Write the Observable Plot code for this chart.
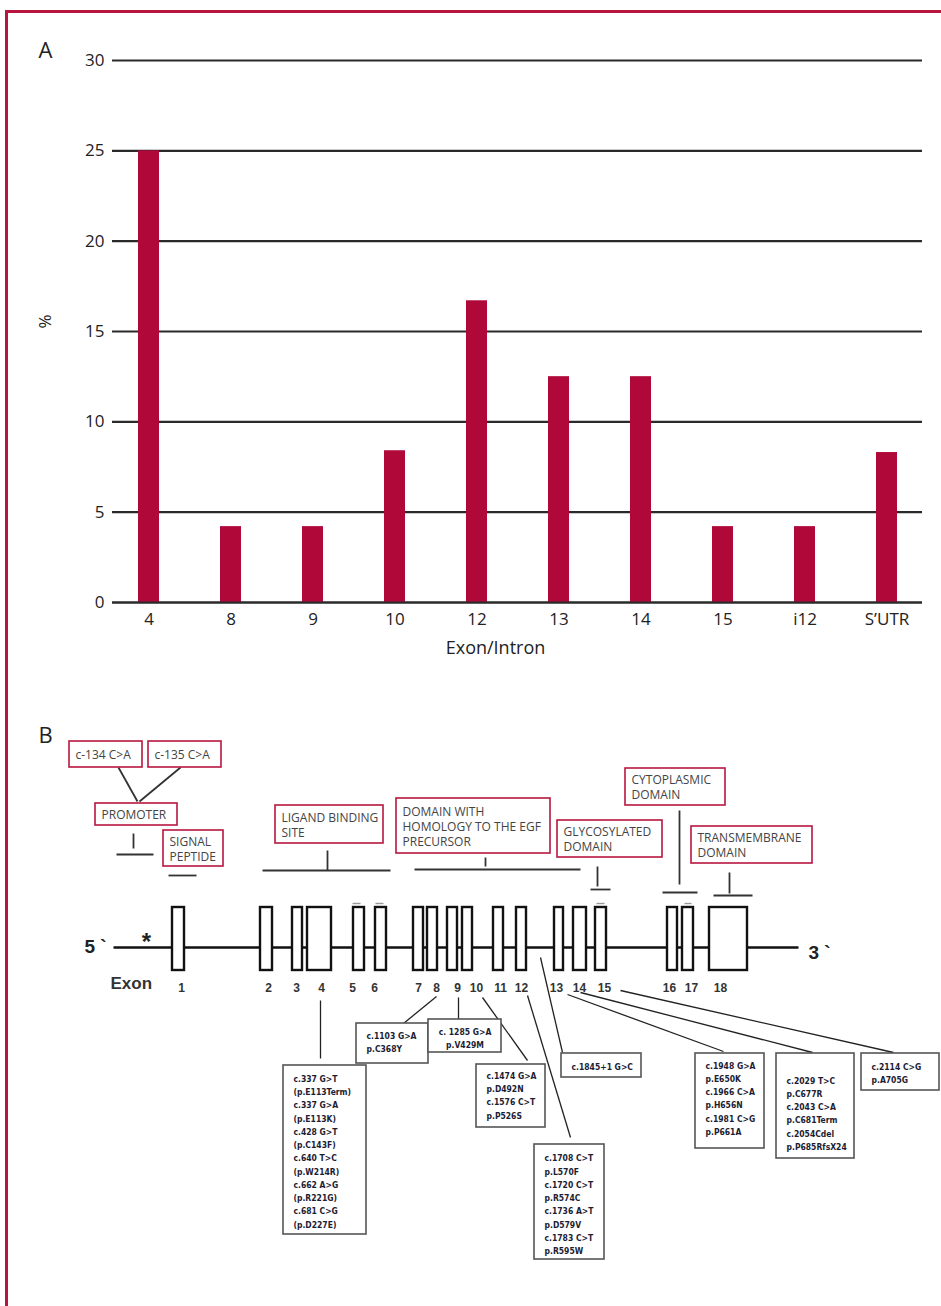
<!DOCTYPE html>
<html><head><meta charset="utf-8">
<script src="https://cdn.jsdelivr.net/npm/d3@7"></script>
<script src="https://cdn.jsdelivr.net/npm/@observablehq/plot@0.6"></script>
<style>
body{margin:0;background:#fff;}
#page{position:relative;width:941px;height:1306px;overflow:hidden;background:#fff;}
#border{position:absolute;left:5px;top:10px;width:960px;height:1320px;border-top:3px solid #b8163f;border-left:3px solid #b8163f;}
#a{position:absolute;left:0;top:0;}
#b{position:absolute;left:0;top:700px;}
</style></head>
<body><div id="page"><div id="border"></div><div id="a"></div><div id="b"></div></div>
<script>
// ---------- Panel A data ----------
const categories = ["4","8","9","10","12","13","14","15","i12","S’UTR"];
const percents   = [25, 4.2, 4.2, 8.4, 16.7, 12.5, 12.5, 4.2, 4.2, 8.3];
const yTicks     = [0, 5, 10, 15, 20, 25, 30];

// ---------- Panel B data ----------
const exonNumbers = ["1","2","3","4","5","6","7","8","9","10","11","12","13","14","15","16","17","18"];
const exonStart   = [172,260,292,307,353,375,413,427,447,462,493,516,554,573,595,667,682,709];
const exonEnd     = [184,272,302,331,364,386,423,437,457,472,503,526,563,586,606,677,693,747];
const exonLabelX  = [181,268,296,321,352,374,418,436,457,476,500,521,556,579,604,669,691,720];
const exonMarks   = [[352,360],[375,383],[596,604],[684,691]];
const gene        = {start:113, end:798, axis:947, top:907, bottom:970, labelRow:988};

const endLabels   = ["5 `","3 `"];
const endLabelX   = [84, 808];
const endLabelY   = [946, 952];

const domainLabels = ["c-134 C>A","c-135 C>A","PROMOTER","SIGNAL\nPEPTIDE","LIGAND BINDING\nSITE",
  "DOMAIN WITH\nHOMOLOGY TO THE EGF\nPRECURSOR","GLYCOSYLATED\nDOMAIN","CYTOPLASMIC\nDOMAIN","TRANSMEMBRANE\nDOMAIN"];
const domainX1 = [69,148,95,163,275,396,557,625,691];
const domainX2 = [142,221,177,223,383,550,662,725,812];
const domainY1 = [741,741,803,830,805,798,820,768,826];
const domainY2 = [767,767,825,866,843,853,857,805,863];

// bracket & connector segments [x1,y1,x2,y2]
const domainSegments = [
  [118,767,137,801],[180,767,139,801],
  [133,833,133,848],[116,854,153,854],
  [168,875,196,875],
  [327,850,327,870],[262,870,390,870],
  [485,857,485,866],[414,869,580,869],
  [597,866,597,886],[590,889,610,889],
  [679,810,679,884],[662,892,697,892],
  [729,872,729,893],[713,895,752,895]
];

const mutationLabels = [
  ["c.337 G>T","(p.E113Term)","c.337 G>A","(p.E113K)","c.428 G>T","(p.C143F)","c.640 T>C","(p.W214R)","c.662 A>G","(p.R221G)","c.681 C>G","(p.D227E)"],
  ["c.1103 G>A","p.C368Y"],
  ["c. 1285 G>A","p.V429M"],
  ["c.1474 G>A","p.D492N","c.1576 C>T","p.P526S"],
  ["c.1845+1 G>C"],
  ["c.1708 C>T","p.L570F","c.1720 C>T","p.R574C","c.1736 A>T","p.D579V","c.1783 C>T","p.R595W"],
  ["c.1948 G>A","p.E650K","c.1966 C>A","p.H656N","c.1981 C>G","p.P661A"],
  ["c.2029 T>C","p.C677R","c.2043 C>A","p.C681Term","c.2054Cdel","p.P685RfsX24"],
  ["c.2114 C>G","p.A705G"]
];
const mutX1 = [283,356,428,476,561,534,695,776,861];
const mutX2 = [366,428,501,545,641,604,764,854,939];
const mutY1 = [1065,1023,1019,1064,1053,1144,1053,1053,1053];
const mutY2 = [1234,1063,1052,1127,1077,1259,1148,1158,1090];
const mutTextY = [1150,1041,1037,1094,1065,1203,1097,1112,1072];
const mutCentered = [false,false,true,false,false,false,false,false,false];
const mutLinks = [
  [320,1000,320,1058],[436,996,403,1023],[458,997,458,1019],[482,997,527,1060],
  [540,957,562,1052],[527,995,570,1137],[567,994,723,1051],[580,992,812,1052],[620,990,893,1052]
];

const crimson = "#b8163f";
const barColor = "#b00839";

// ---------- Panel A ----------
const tableA = categories.map((c,i)=>({cat:c, pct:percents[i]}));
const chartA = Plot.plot({
  width: 941, height: 690,
  marginLeft: 112, marginRight: 19, marginTop: 60, marginBottom: 88,
  style: {fontFamily: "'Open Sans', sans-serif", fontSize: "17px", color: "#222", background: "transparent"},
  x: {domain: categories, paddingInner: 0.745, paddingOuter: 0.2875, label: null},
  y: {domain: [0, 30], label: null},
  marks: [
    Plot.ruleY(yTicks, {stroke: "#2a2a2a", strokeWidth: 2.2}),
    Plot.barY(tableA, {x: "cat", y: "pct", fill: barColor}),
    Plot.ruleY([0], {stroke: "#2a2a2a", strokeWidth: 2.2}),
    Plot.axisY({ticks: yTicks, tickSize: 0, tickPadding: 8, label: null, fontSize: 17}),
    Plot.axisX({tickSize: 0, tickPadding: 10, label: null, fontSize: 17}),
    Plot.text(["%"], {frameAnchor: "left", dx: -67, dy: -3, rotate: -90, fontSize: 17}),
    Plot.text(["Exon/Intron"], {frameAnchor: "bottom", dx: -22, dy: 51, fontSize: 18}),
    Plot.text(["A"], {frameAnchor: "top-left", textAnchor: "start", dx: -74, dy: -18, fontSize: 22})
  ]
});
document.getElementById("a").appendChild(chartA);

// ---------- Panel B ----------
const idx = exonNumbers.map((d,i)=>i);
const dIdx = domainLabels.map((d,i)=>i);
const mIdx = mutationLabels.map((d,i)=>i);
const boldFont = "'Liberation Sans', Arial, sans-serif";
const mutFont = "'DejaVu Sans Condensed', 'DejaVu Sans', sans-serif";

const chartB = Plot.plot({
  width: 941, height: 606, margin: 0,
  style: {background: "transparent", color: "#222"},
  x: {domain: [0, 941], axis: null},
  y: {domain: [700, 1306], reverse: true, axis: null},
  marks: [
    Plot.text(["B"], {x: 38, y: 735, textAnchor: "start", fontSize: 22, fontFamily: "'Open Sans', sans-serif", fill: "#222"}),
    // domain annotation lines
    Plot.link(domainSegments, {x1: d=>d[0], y1: d=>d[1], x2: d=>d[2], y2: d=>d[3], stroke: "#333", strokeWidth: 1.8}),
    // domain boxes
    Plot.rect(dIdx, {x1: i=>domainX1[i], x2: i=>domainX2[i], y1: i=>domainY1[i], y2: i=>domainY2[i], fill: "white", stroke: crimson, strokeWidth: 1.6}),
    Plot.text(dIdx, {x: i=>domainX1[i]+6, y: i=>(domainY1[i]+domainY2[i])/2, text: i=>domainLabels[i],
      textAnchor: "start", lineAnchor: "middle", lineHeight: 1.25, fontSize: 12, fill: "#444", fontFamily: "'Open Sans', sans-serif"}),
    // gene backbone
    Plot.link([gene], {x1: d=>d.start, x2: d=>d.end, y1: d=>d.axis, y2: d=>d.axis, stroke: "#111", strokeWidth: 2.6}),
    Plot.rect(idx, {x1: i=>exonStart[i], x2: i=>exonEnd[i], y1: gene.top, y2: gene.bottom, fill: "white", stroke: "#111", strokeWidth: 2.4}),
    Plot.link(exonMarks, {x1: d=>d[0], x2: d=>d[1], y1: gene.top-4, y2: gene.top-4, stroke: "#999", strokeWidth: 1.4}),
    Plot.text(exonNumbers, {x: (d,i)=>exonLabelX[i], y: gene.labelRow, fontSize: 12, fontWeight: "bold", fontFamily: boldFont, fill: "#333"}),
    Plot.text(endLabels, {x: (d,i)=>endLabelX[i], y: (d,i)=>endLabelY[i], textAnchor: "start", fontSize: 19, fontWeight: "bold", fontFamily: boldFont, fill: "#222"}),
    Plot.text(["*"], {x: 146, y: 942, fontSize: 24, fontWeight: "bold", fontFamily: boldFont, fill: "#222"}),
    Plot.text(["Exon"], {x: 110, y: 983, textAnchor: "start", fontSize: 17, fontWeight: "bold", fontFamily: boldFont, fill: "#333"}),
    // mutation connectors and boxes
    Plot.link(mutLinks, {x1: d=>d[0], y1: d=>d[1], x2: d=>d[2], y2: d=>d[3], stroke: "#222", strokeWidth: 1.3}),
    Plot.rect(mIdx, {x1: i=>mutX1[i], x2: i=>mutX2[i], y1: i=>mutY1[i], y2: i=>mutY2[i], fill: "white", stroke: "#555", strokeWidth: 1.6}),
    Plot.text(mIdx.filter(i=>!mutCentered[i]), {x: i=>mutX1[i]+10, y: i=>mutTextY[i], text: i=>mutationLabels[i].join("\n"),
      textAnchor: "start", lineAnchor: "middle", lineHeight: 1.56, fontSize: 8.5, fontWeight: "bold", fontFamily: mutFont, fill: "#1c1c33"}),
    Plot.text(mIdx.filter(i=>mutCentered[i]), {x: i=>(mutX1[i]+mutX2[i])/2, y: i=>mutTextY[i], text: i=>mutationLabels[i].join("\n"),
      textAnchor: "middle", lineAnchor: "middle", lineHeight: 1.56, fontSize: 8.5, fontWeight: "bold", fontFamily: mutFont, fill: "#1c1c33"})
  ]
});
document.getElementById("b").appendChild(chartB);
</script>
</body></html>
